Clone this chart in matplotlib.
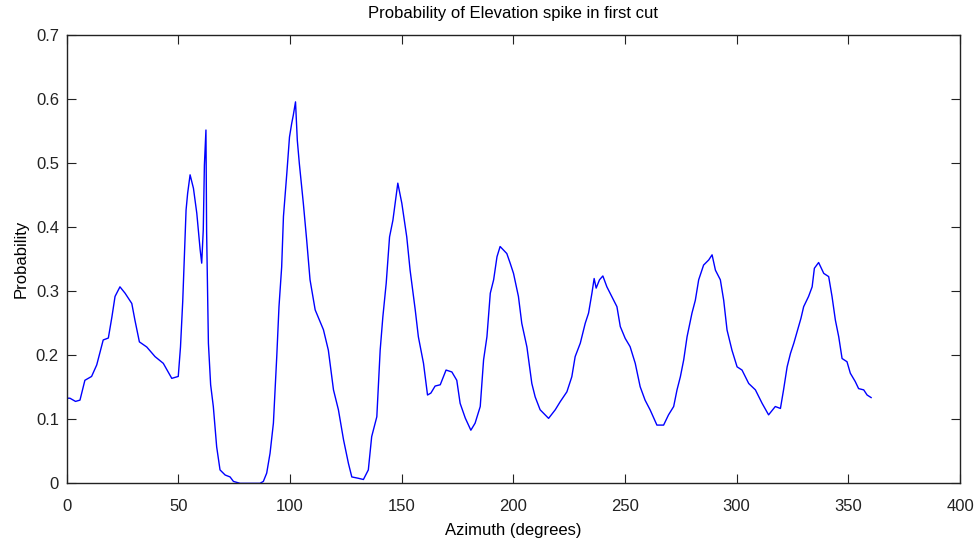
import matplotlib
matplotlib.use("Agg")
import matplotlib.pyplot as plt

# values
azimuth = [0, 1.5, 4, 6, 8.2, 11.2, 13.5, 16.4, 18.7, 20.3, 21.7, 23.9, 26.2, 29.2, 30.6,
           32.6, 35.9, 39.6, 43.3, 47.1, 50.0, 51.0, 52.0, 53.0, 53.5, 54.2, 55.3, 56.8,
           58.3, 59.8, 60.5, 61.2, 61.7, 62.4, 62.7, 63.5, 64.5, 65.7, 67.2, 68.7, 71.0,
           73.2, 74.7, 77.7, 80, 83, 86.6, 88.1, 89.6, 91.1, 92.6, 94.1, 95.1, 96.3, 97.1,
           98.6, 99.8, 100.8, 101.5, 102.5, 103.3, 104.2, 106.0, 107.5, 109.0, 111.3,
           115.0, 117.2, 119.5, 121.7, 124.0, 126.2, 127.7, 130.5, 132.9, 135.1, 136.6,
           138.9, 140.4, 141.6, 143.1, 144.6, 146.1, 148.3, 150.1, 152.3, 153.8, 156.1,
           157.5, 159.8, 161.6, 163.1, 165.0, 167.3, 169.9, 172.5, 174.7, 176.2, 178.5,
           181.0, 182.9, 185.2, 186.7, 188.2, 189.7, 191.2, 192.7, 194.1, 197.1, 198.6,
           200.1, 202.3, 203.8, 206.1, 208.3, 209.8, 212.0, 214.0, 215.8, 218.8, 221.0,
           224.0, 226.2, 227.7, 230.0, 232.2, 233.7, 235.2, 236.2, 237.1, 238.6, 240.1,
           241.9, 244.1, 246.4, 247.9, 250.1, 252.3, 254.6, 256.8, 259.0, 261.3, 264.3,
           267.3, 269.5, 271.8, 273.3, 274.8, 276.3, 277.8, 280.0, 281.5, 283.0, 285.2,
           287.5, 289.0, 290.5, 292.7, 294.2, 295.7, 297.9, 300.2, 302.4, 305.4, 308.4,
           311.4, 314.3, 317.3, 319.6, 321.0, 322.6, 324.1, 325.6, 327.1, 328.8, 330.0,
           332.2, 333.8, 334.8, 336.7, 339.0, 341.2, 342.7, 344.2, 345.7, 347.2, 349.4,
           350.9, 353.1, 354.6, 356.9, 358.4, 360.2]
probability = [0.133, 0.133, 0.128, 0.130, 0.161, 0.167, 0.185, 0.224, 0.227, 0.26, 0.292,
               0.307, 0.297, 0.281, 0.255, 0.221, 0.213, 0.198, 0.1875, 0.164, 0.167,
               0.213, 0.284, 0.380, 0.427, 0.453, 0.482, 0.461, 0.422, 0.365, 0.344,
               0.396, 0.497, 0.552, 0.393, 0.219, 0.154, 0.120, 0.057, 0.021, 0.013,
               0.010, 0.003, 0.0, 0.0, 0.0, 0.0, 0.003, 0.016, 0.047, 0.094, 0.198,
               0.276, 0.338, 0.417, 0.484, 0.541, 0.5625, 0.575, 0.596, 0.536, 0.500,
               0.4375, 0.380, 0.318, 0.271, 0.240, 0.208, 0.146, 0.115, 0.068, 0.031,
               0.010, 0.008, 0.006, 0.021, 0.073, 0.104, 0.208, 0.260, 0.3125, 0.385,
               0.411, 0.469, 0.4375, 0.385, 0.333, 0.271, 0.229, 0.1875, 0.138, 0.141,
               0.152, 0.154, 0.177, 0.174, 0.161, 0.125, 0.102, 0.083, 0.094, 0.120,
               0.193, 0.229, 0.297, 0.318, 0.354, 0.370, 0.359, 0.344, 0.328, 0.292,
               0.25, 0.213, 0.156, 0.135, 0.115, 0.108, 0.1015, 0.115, 0.1275, 0.143,
               0.1665, 0.198, 0.219, 0.25, 0.266, 0.297, 0.320, 0.305, 0.318, 0.324,
               0.307, 0.292, 0.276, 0.245, 0.2265, 0.2135, 0.1875, 0.151, 0.130, 0.1145,
               0.091, 0.091, 0.107, 0.120, 0.146, 0.1665, 0.193, 0.229, 0.266, 0.286,
               0.318, 0.341, 0.349, 0.357, 0.333, 0.318, 0.286, 0.2395, 0.208, 0.182,
               0.177, 0.156, 0.146, 0.125, 0.107, 0.120, 0.117, 0.146, 0.182, 0.203,
               0.219, 0.237, 0.258, 0.276, 0.292, 0.307, 0.336, 0.345, 0.328, 0.323,
               0.292, 0.255, 0.229, 0.195, 0.190, 0.172, 0.159, 0.148, 0.146, 0.138,
               0.134]

plt.rcParams['font.family'] = ['Liberation Sans', 'DejaVu Sans']
plt.rcParams['font.size'] = 12

fig = plt.figure(figsize=(9.79, 5.48), dpi=100)
ax = fig.add_axes([0.068, 0.118, 0.9126, 0.8176])
ax.plot(azimuth, probability, color='#0000ff', linewidth=1.0)

ax.set_xlim(0, 400)
ax.set_ylim(0, 0.7)
ax.set_xticks(range(0, 401, 50))
ax.set_yticks([i / 10 for i in range(8)])
ax.set_yticklabels(['0'] + ['%.1f' % (i / 10) for i in range(1, 8)])
ax.tick_params(direction='in', top=True, right=True, length=6.5, width=0.8,
               labelsize=12, colors='#222222')
ax.tick_params(axis='x', pad=11)
ax.tick_params(axis='y', pad=5.5)
for s in ax.spines.values():
    s.set_linewidth(1.0)
    s.set_color('#222222')

ax.set_title('Probability of Elevation spike in first cut', fontsize=12, pad=12.5)
ax.set_xlabel('Azimuth (degrees)', fontsize=12, labelpad=7)
ax.set_ylabel('Probability', fontsize=12, labelpad=5.5)

fig.savefig('out.png', dpi=100)
